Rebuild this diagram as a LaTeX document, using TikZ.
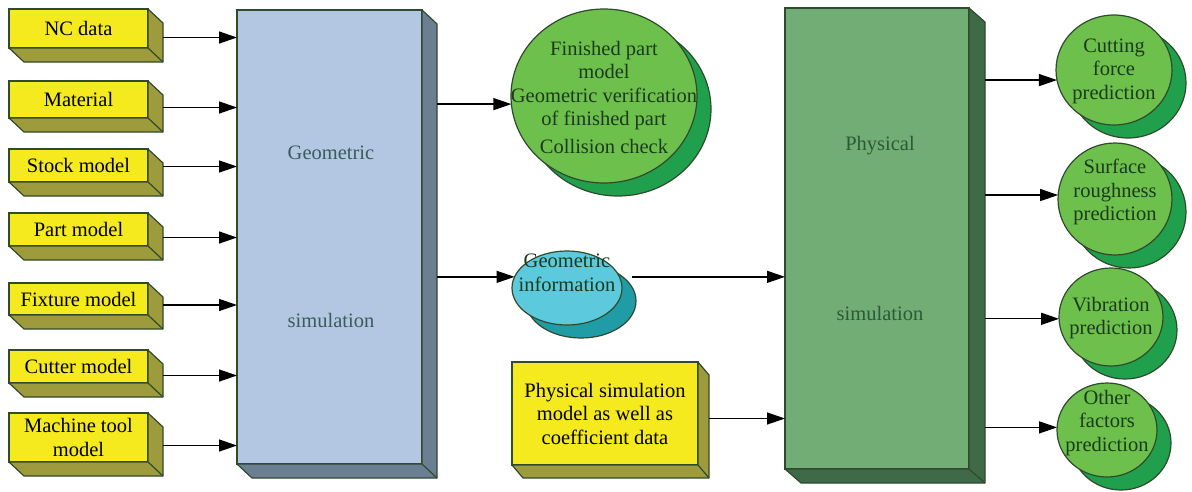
\documentclass[tikz,border=0pt]{standalone}
\usepackage{fontspec}
\setmainfont{Liberation Serif}
\usetikzlibrary{arrows.meta,calc,positioning,shapes.geometric,shadows}

\definecolor{edge}{HTML}{2F4A2C}
\definecolor{yfront}{HTML}{F4EA1E}
\definecolor{yside}{HTML}{9D9B3B}
\definecolor{bfront}{HTML}{B3C7E3}
\definecolor{bside}{HTML}{6C7F92}
\definecolor{gfront}{HTML}{71AD74}
\definecolor{gside}{HTML}{3F6A47}
\definecolor{lgreen}{HTML}{6DC04B}
\definecolor{dgreen}{HTML}{20A04C}
\definecolor{lcyan}{HTML}{5DC9DC}
\definecolor{dcyan}{HTML}{1F9CA5}
\definecolor{ink}{HTML}{1C3A1C}
\definecolor{geoink}{HTML}{3A5C5A}
\definecolor{phyink}{HTML}{2C5A36}

% side and bottom faces of a box node: node, colour, depth
\newcommand\extrude[3]{%
  \filldraw[fill=#2, draw=edge, line width=1.2pt, line join=round]
    (#1.north east) -- ++#3 -- ($(#1.south east)+#3$) -- ($(#1.south west)+#3$)
    -- (#1.south west) -- (#1.south east) -- cycle;
  \draw[edge, line width=1.2pt] (#1.south east) -- ++#3;
}

\begin{document}
\begin{tikzpicture}[x=1pt, y=-1pt,
  every node/.style={font=\fontsize{20.5}{23.5}\selectfont},
  input/.style={draw=edge, fill=yfront, line width=1.2pt, minimum width=139pt,
    inner sep=1pt, outer sep=0pt, align=center},
  block/.style={draw=edge, line width=1.2pt, inner sep=0pt, outer sep=0pt},
  bubble/.style 2 args={ellipse, draw=edge, fill=#1, line width=1.2pt,
    inner sep=0pt, outer sep=0pt,
    general shadow={fill=#2, draw=edge, line width=1.2pt,
      shadow xshift=14pt, shadow yshift=-13pt}},
  caption/.style={text=ink, align=center, inner sep=0pt},
  flow/.style={-{Triangle[length=18pt,width=12pt]}, line width=1.3pt}]
\useasboundingbox (0,0) rectangle (1192,491);

% inputs
\node[input, minimum height=39pt] (nc) at (78.5,28.5) {NC data};
\node[input, minimum height=37pt, below=33pt of nc] (mat) {Material};
\node[input, minimum height=33pt, below=31pt of mat] (stock) {Stock model};
\node[input, minimum height=33pt, below=31pt of stock] (part) {Part model};
\node[input, minimum height=32pt, below=37pt of part] (fix) {Fixture model};
\node[input, minimum height=33pt, below=35pt of fix] (cut) {Cutter model};
\node[input, minimum height=49pt, below=30pt of cut] (mach) {Machine tool\\model};
\foreach \n in {nc,mat,stock,part,fix,cut,mach}
  \extrude{\n}{yside}{(15,14)};

% geometric simulation
\node[block, fill=bfront, minimum width=185pt, minimum height=454pt] (geo) at (329.5,237) {};
\extrude{geo}{bside}{(15,14)}
\node[text=geoink] (geoa) at (331,153) {Geometric};
\node[text=geoink] (geob) at (331,320) {simulation};

% physical simulation
\node[block, fill=gfront, minimum width=184pt, minimum height=461pt] (phys) at (877,238.5) {};
\extrude{phys}{gside}{(16,14)}
\node[text=phyink] (phya) at (880,146) {Physical};
\node[text=phyink] (phyb) at (880,313) {simulation};

\node[input, minimum width=186pt, minimum height=103pt, inner sep=2pt] (coef) at (605,413.5)
  {Physical simulation\\model as well as\\coefficient data};
\extrude{coef}{yside}{(11,13)}

% results
\node[bubble={lgreen}{dgreen}, minimum width=186pt, minimum height=174pt] (fin) at (604,96) {};
\node[caption] (fint) at (604,97)
  {Finished part\\model\\Geometric verification\\of finished part\\[4pt]Collision check};
\node[bubble={lcyan}{dcyan}, minimum width=110pt, minimum height=74pt] (gi) at (567,288) {};
\node[caption] (git) at (567,273) {Geometric\\information};

\node[bubble={lgreen}{dgreen}, minimum width=116pt, minimum height=110pt] (cf) at (1114,70) {};
\node[caption] (cft) at (1114,71) {Cutting\\force\\prediction};
\node[bubble={lgreen}{dgreen}, minimum width=114pt, minimum height=112pt] (sr) at (1115,199) {};
\node[caption] (srt) at (1115,192) {Surface\\roughness\\prediction};
\node[bubble={lgreen}{dgreen}, minimum width=104pt, minimum height=98pt] (vib) at (1111,317) {};
\node[caption] (vibt) at (1111,318) {Vibration\\prediction};
\node[bubble={lgreen}{dgreen}, minimum width=100pt, minimum height=94pt] (oth) at (1107,430) {};
\node[caption] (otht) at (1107,423) {Other\\factors\\prediction};

% connectors
\foreach \n/\dy in {nc/9,mat/8,stock/1,part/8,fix/6,cut/9,mach/8}{
  \coordinate (\n-out) at ($(\n.east)+(15,\dy)$);
  \draw[flow] (\n-out) -- (\n-out -| geo.west);
}
\draw[flow] ($(geo.east |- fin.185)+(15,0)$) -- (fin.185);
\draw[flow] ($(geo.east |- gi.168)+(15,0)$) -- (gi.168);
\draw[flow] ($(gi.12)+(13,0)$) -- (gi.12 -| phys.west);
\coordinate (coef-out) at ($(coef.east)+(11,5)$);
\draw[flow] (coef-out) -- (coef-out -| phys.west);
\foreach \n/\a in {cf/190,sr/176,vib/182,oth/177}
  \draw[flow] ($(phys.east |- \n.\a)+(16,0)$) -- (\n.\a);
\end{tikzpicture}
\end{document}
